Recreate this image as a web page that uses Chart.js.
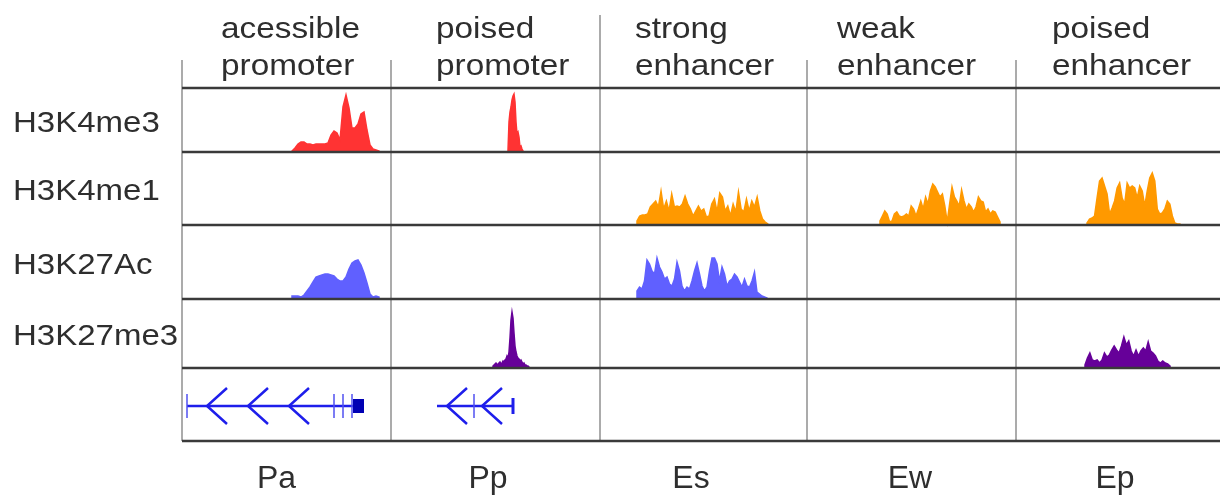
<!DOCTYPE html>
<html>
<head>
<meta charset="utf-8">
<script src="https://cdn.jsdelivr.net/npm/chart.js@4.4.0/dist/chart.umd.min.js"></script>
<style>
  html, body { margin: 0; padding: 0; background: #fff; }
  #wrap { width: 1220px; height: 497px; position: relative; }
</style>
</head>
<body>
<div id="wrap"><canvas id="tracks"></canvas></div>
<script>
// chromatin states (columns) and histone marks (rows)
var states = ["Pa", "Pp", "Es", "Ew", "Ep"];
var stateNames = [["acessible", "promoter"], ["poised", "promoter"], ["strong", "enhancer"], ["weak", "enhancer"], ["poised", "enhancer"]];
var marks = ["H3K4me3", "H3K4me1", "H3K27Ac", "H3K27me3"];

// coverage heights
var h3k4me3_Pa = [1,4,8,10,10,8,8,7,8,8,8,8,9,17,21,19,12,45,57,44,24,24,28,38,40,22,7,3,2,1];
var h3k4me3_Pp = [2,30,40,45,52,56,58,50,30,18,20,15,5,6,3,1];
var h3k4me1_Es = [4,9,10,10,11,18,21,24,18,34,16,24,14,31,18,19,18,21,29,21,16,9,14,19,14,16,8,9,21,26,13,32,28,14,19,9,21,13,33,16,13,26,14,24,18,28,14,6,3,1];
var h3k4me1_Ew = [4,9,14,11,3,4,11,13,9,8,9,11,9,19,16,9,16,24,16,28,21,34,41,38,33,28,31,19,3,21,38,28,24,19,35,24,16,21,18,13,18,28,24,23,13,16,11,14,13,8,3];
var h3k4me1_Ep = [2,6,7,9,27,44,47,39,31,11,17,24,37,42,27,21,42,37,39,37,27,39,34,19,34,47,52,44,16,11,12,16,24,21,9,2,1,1];
var h3k27ac_Pa = [3,3,3,2,4,8,12,17,22,23,24,25,25,24,23,20,18,18,22,30,36,38,39,34,26,16,5,2,3,2];
var h3k27ac_Es = [8,12,10,18,39,35,28,25,41,32,27,20,22,15,13,20,37,28,13,8,12,10,18,28,36,25,13,8,12,28,41,41,35,18,32,25,13,18,20,25,22,17,12,20,13,12,18,27,7,5,3,2,1];
var h3k27me3_Pp = [2,3,4,5,4,3,5,6,4,5,7,6,8,9,12,10,16,30,48,56,50,35,22,16,12,10,9,7,8,6,4,5,3,3,2,2,1];
var h3k27me3_Ep = [3,10,15,8,7,8,5,8,15,11,13,18,22,18,15,22,31,23,27,17,12,18,12,17,20,17,26,17,15,12,7,5,7,5,4,2];

// gene models (track coordinates)
var paGeneSpan = [5, 181];
var paChevrons = [25, 66, 107];
var paExonTicks = [152, 161, 170];
var paExonBox = [171, 182];
var ppGeneSpan = [255, 331];
var ppChevrons = [265, 300];
var ppExonTicks = [292];

// layout
var colEdges = [0, 209, 418, 625, 834];
var colLineTop = [-28, -28, -73, -28, -28];
var rowEdges = [0, 64, 137, 211, 280, 353];
var headerX = [39, 254, 453, 655, 870];
var footerX = [94.5, 306, 509, 728, 933];
var geneY = 318;
var FONT = "'Liberation Sans', Arial, sans-serif";
var TEXT = "#2e2e2e";

var tracks = [
    {values: h3k4me3_Pa, row: 0, start: 110, step: 3, color: "#ff3333"},
    {values: h3k4me3_Pp, row: 0, start: 326, step: 1, color: "#ff3333"},
    {values: h3k4me1_Es, row: 1, start: 455, step: 2.67, color: "#ff9900"},
    {values: h3k4me1_Ew, row: 1, start: 698, step: 2.4, color: "#ff9900"},
    {values: h3k4me1_Ep, row: 1, start: 905, step: 2.51, color: "#ff9900"},
    {values: h3k27ac_Pa, row: 2, start: 110, step: 3, color: "#6060ff"},
    {values: h3k27ac_Es, row: 2, start: 455, step: 2.5, color: "#6060ff"},
    {values: h3k27me3_Pp, row: 3, start: 311, step: 1, color: "#660099"},
    {values: h3k27me3_Ep, row: 3, start: 903, step: 2.43, color: "#660099"}
];

var datasets = tracks.map(function(t) {
    var base = rowEdges[t.row + 1];
    var pts = [{x: t.start, y: base}];
    t.values.forEach(function(v, i) {
        pts.push({x: t.start + i * t.step, y: base - v});
    });
    pts.push({x: t.start + (t.values.length - 1) * t.step, y: base});
    return {
        data: pts,
        borderColor: t.color,
        backgroundColor: t.color,
        borderWidth: 1.5,
        pointRadius: 0,
        tension: 0,
        fill: {value: base}
    };
});

function stretchText(ctx, text, x, y, size, sx, align) {
    ctx.save();
    ctx.font = size + "px " + FONT;
    ctx.fillStyle = TEXT;
    ctx.textBaseline = "alphabetic";
    ctx.translate(x, y);
    ctx.scale(sx, 1);
    ctx.textAlign = align || "left";
    ctx.fillText(text, 0, 0);
    ctx.restore();
}

var gridPlugin = {
    id: "grid",
    beforeDatasetsDraw: function(chart) {
        var ctx = chart.ctx, xs = chart.scales.x, ys = chart.scales.y;
        ctx.save();
        ctx.strokeStyle = "#ababab";
        ctx.lineWidth = 2;
        colEdges.forEach(function(c, i) {
            var px = xs.getPixelForValue(c);
            ctx.beginPath();
            ctx.moveTo(px, ys.getPixelForValue(colLineTop[i]));
            ctx.lineTo(px, ys.getPixelForValue(rowEdges[rowEdges.length - 1]));
            ctx.stroke();
        });
        ctx.restore();
    },
    afterDatasetsDraw: function(chart) {
        var ctx = chart.ctx, xs = chart.scales.x, ys = chart.scales.y;
        ctx.save();
        ctx.strokeStyle = "#3a3a3a";
        ctx.lineWidth = 2.5;
        rowEdges.forEach(function(r) {
            var py = ys.getPixelForValue(r);
            ctx.beginPath();
            ctx.moveTo(chart.chartArea.left, py);
            ctx.lineTo(chart.chartArea.right, py);
            ctx.stroke();
        });

        // gene models
        var gy = ys.getPixelForValue(geneY);
        var X = function(v) { return xs.getPixelForValue(v); };
        ctx.strokeStyle = "#1e1eeb";
        ctx.lineWidth = 2.5;
        [paGeneSpan, ppGeneSpan].forEach(function(s) {
            ctx.beginPath();
            ctx.moveTo(X(s[0]), gy);
            ctx.lineTo(X(s[1]), gy);
            ctx.stroke();
        });
        paChevrons.concat(ppChevrons).forEach(function(c) {
            ctx.beginPath();
            ctx.moveTo(X(c + 20), gy - 18);
            ctx.lineTo(X(c), gy);
            ctx.lineTo(X(c + 20), gy + 18);
            ctx.stroke();
        });
        ctx.lineWidth = 1.5;
        ctx.strokeStyle = "#5050f0";
        paExonTicks.concat(ppExonTicks).concat([paGeneSpan[0]]).forEach(function(t) {
            ctx.beginPath();
            ctx.moveTo(X(t), gy - 12);
            ctx.lineTo(X(t), gy + 12);
            ctx.stroke();
        });
        ctx.lineWidth = 3;
        ctx.strokeStyle = "#1e1eeb";
        ctx.beginPath();
        ctx.moveTo(X(ppGeneSpan[1]), gy - 8);
        ctx.lineTo(X(ppGeneSpan[1]), gy + 8);
        ctx.stroke();
        ctx.fillStyle = "#0000b4";
        ctx.fillRect(X(paExonBox[0]), gy - 7, X(paExonBox[1]) - X(paExonBox[0]), 14);
        ctx.restore();
    },
    afterDraw: function(chart) {
        var ctx = chart.ctx, xs = chart.scales.x, ys = chart.scales.y;
        stateNames.forEach(function(lines, i) {
            stretchText(ctx, lines[0], xs.getPixelForValue(headerX[i]), ys.getPixelForValue(-50), 29, 1.15);
            stretchText(ctx, lines[1], xs.getPixelForValue(headerX[i]), ys.getPixelForValue(-13), 29, 1.15);
        });
        marks.forEach(function(m, i) {
            var mid = (rowEdges[i] + rowEdges[i + 1]) / 2;
            stretchText(ctx, m, 13, ys.getPixelForValue(mid + 11.7), 30, 1.1);
        });
        states.forEach(function(s, i) {
            stretchText(ctx, s, xs.getPixelForValue(footerX[i]), ys.getPixelForValue(rowEdges[5] + 47), 31, 1.03, "center");
        });
    }
};

new Chart(document.getElementById("tracks"), {
    type: "line",
    data: {datasets: datasets},
    options: {
        responsive: true,
        maintainAspectRatio: false,
        animation: false,
        layout: {padding: {left: 182, top: 88, right: 0, bottom: 56}},
        plugins: {legend: {display: false}, tooltip: {enabled: false}},
        scales: {
            x: {type: "linear", min: 0, max: 1038, display: false},
            y: {type: "linear", min: 0, max: 353, reverse: true, display: false}
        }
    },
    plugins: [gridPlugin]
});
</script>
</body>
</html>
